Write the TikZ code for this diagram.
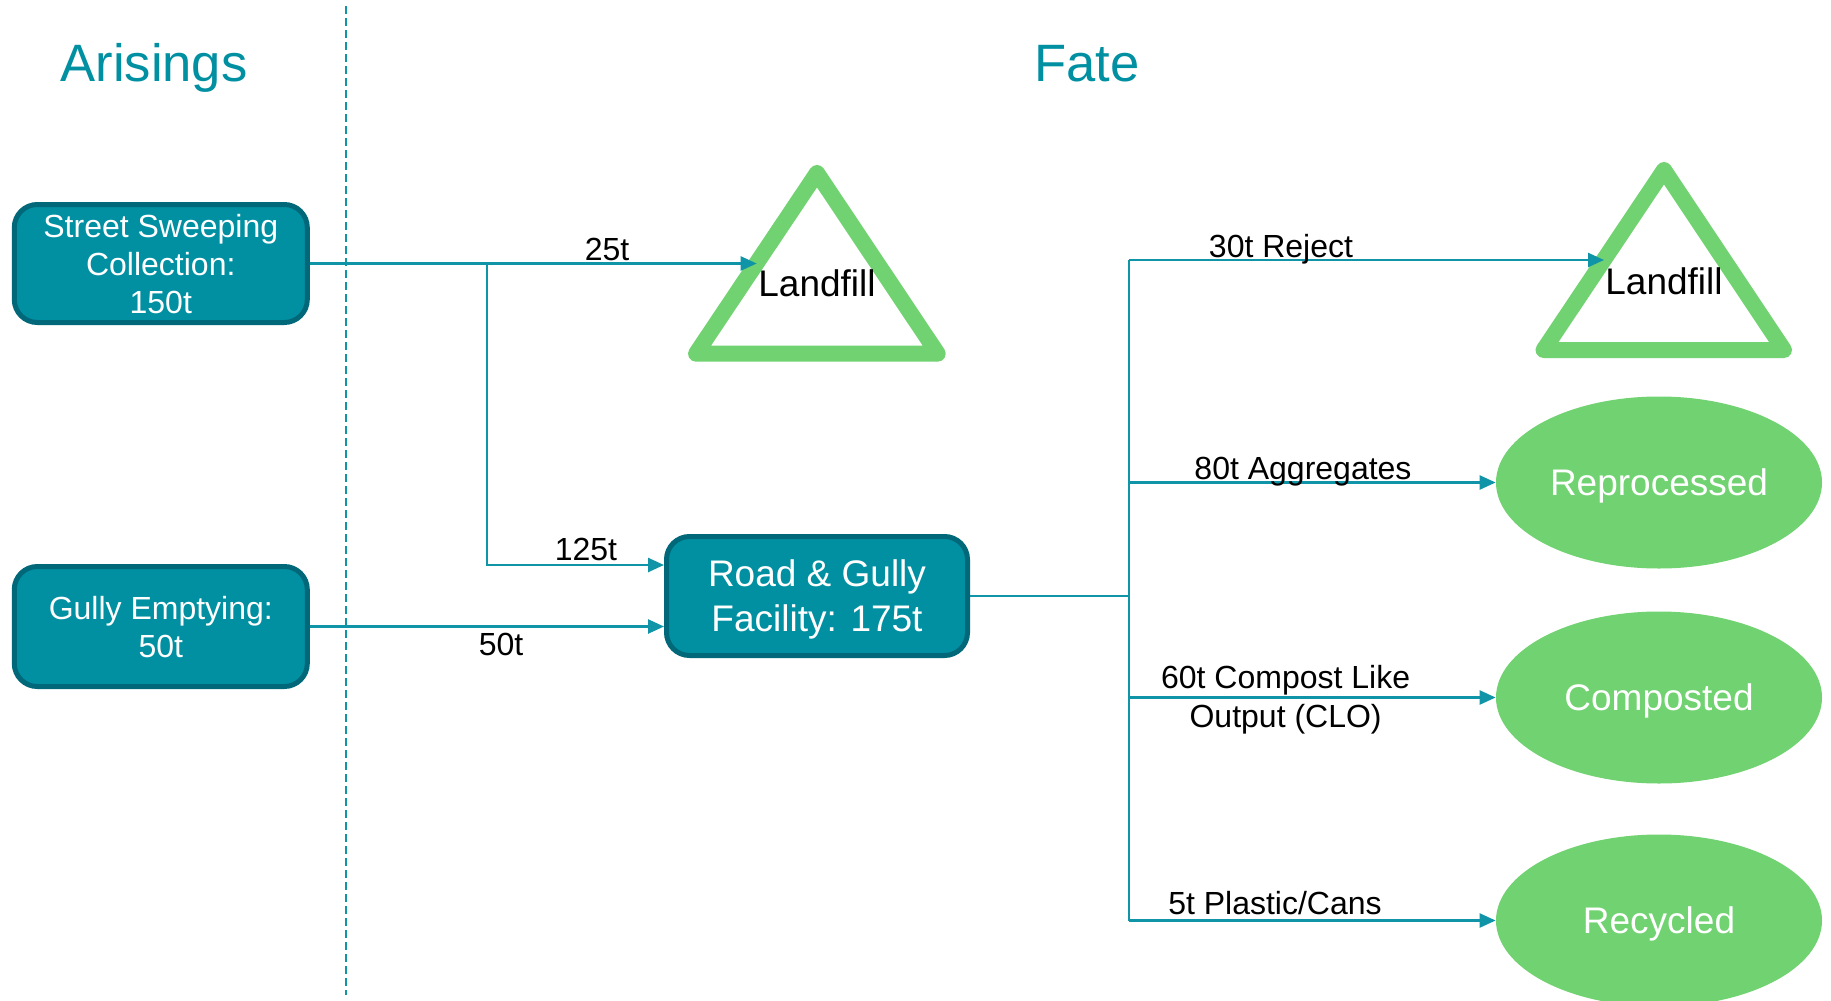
\documentclass[tikz,border=0pt]{standalone}
\usepackage{fontspec}
\setmainfont{Liberation Sans}
\usetikzlibrary{shapes.geometric,arrows.meta,calc}
\definecolor{tealfill}{RGB}{0,144,162}
\definecolor{tealdark}{RGB}{0,104,120}
\definecolor{tealline}{RGB}{16,148,168}
\definecolor{lgreen}{RGB}{112,210,112}
\tikzset{
  srcbox/.style={draw=tealdark, fill=tealfill, line width=2.5pt, rounded corners=11.5pt,
    text=white, align=center, inner sep=0pt, text depth=0pt, font=\fontsize{16}{19}\selectfont},
  fate/.style={ellipse, fill=lgreen, text=white, inner sep=0pt, text depth=0pt,
    minimum width=163pt, minimum height=86pt, font=\fontsize{18.5}{22}\selectfont},
  conn/.style={draw=tealline, line width=1.25pt},
  arr/.style={conn, -{Triangle[length=8pt,width=7pt]}},
  lbl/.style={text=black, inner sep=0pt, text depth=0pt, font=\fontsize{16}{18}\selectfont, align=center},
  ttl/.style={text=tealfill, inner sep=0pt, anchor=base, font=\fontsize{26.3}{30}\selectfont},
  tri/.style={draw=lgreen, line width=8pt, line join=round},
}
\begin{document}
\begin{tikzpicture}[x=0.5pt,y=-0.5pt]
\clip (0,0) rectangle (1831,1001);
\fill[white] (0,0) rectangle (1831,1001);

% titles and divider
\node[ttl] (tarise) at (154,81.5) {Arisings};
\node[ttl] (tfate) at (1087,81.5) {Fate};
\coordinate (dtop) at (345.6,6);
\coordinate (dbot) at (345.6,995);
\draw[tealline, line width=1pt, dash pattern=on 4pt off 2pt] (dtop) -- (dbot);

% source boxes
\node[srcbox, minimum width=146.5pt, minimum height=59pt] (ss) at (160.8,263.5)
  {Street Sweeping\\Collection:\\150t};
\node[srcbox, minimum width=146.5pt, minimum height=60pt] (ge) at (160.8,626.5)
  {Gully Emptying:\\50t};
\node[srcbox, minimum width=150.5pt, minimum height=59.5pt,
  font=\fontsize{18.5}{22.5}\selectfont] (rg) at (817,596)
  {Road \& Gully\\Facility: 175t};

% landfill triangles
\coordinate (l1t) at (817,173);
\coordinate (l1l) at (696,353.7);
\coordinate (l1r) at (937.7,353.7);
\draw[tri] (l1t) -- (l1l) -- (l1r) -- cycle;
\node[lbl, font=\fontsize{18.5}{22}\selectfont] (lf1) at (817,283) {Landfill};

\coordinate (l2t) at (1664,170);
\coordinate (l2l) at (1543.5,350);
\coordinate (l2r) at (1784,350);
\draw[tri] (l2t) -- (l2l) -- (l2r) -- cycle;
\node[lbl, font=\fontsize{18.5}{22}\selectfont] (lf2) at (1664,281) {Landfill};

% fate ellipses
\node[fate] (rep) at (1659,482.5) {Reprocessed};
\node[fate] (com) at (1659,697.5) {Composted};
\node[fate] (rec) at (1659,920.5) {Recycled};

% connectors: arisings
\coordinate (b1) at (487,263.5);
\coordinate (l1in) at (756.7,263.5);
\coordinate (rgin1) at ($(rg.north west)!0.25!(rg.south west)$);
\draw[arr] (ss.east) -- (l1in);
\draw[arr] (b1) |- (rgin1);
\draw[arr] (ge.east) -- (ge.east -| rg.west);

% connectors: fate
\coordinate (hub) at (1129,596);
\coordinate (jt) at (1129,260);
\coordinate (jb) at (1129,920.5);
\coordinate (l2in) at (1604,260);
\draw[conn] (rg.east) -- (hub);
\draw[conn] (jt) -- (jb);
\draw[arr] (jt) -- (l2in);
\draw[arr] (jt |- rep.west) -- (rep.west);
\draw[arr] (jt |- com.west) -- (com.west);
\draw[arr] (jb) -- (rec.west);

% flow labels
\node[lbl] (t25) at (607,249) {25t};
\node[lbl] (t125) at (586,549) {125t};
\node[lbl] (t50) at (501,644.5) {50t};
\node[lbl] (t30) at (1281,246) {30t Reject};
\node[lbl] (t80) at (1303,468) {80t Aggregates};
\node[lbl, text depth=, font=\fontsize{16}{19.5}\selectfont] (t60) at (1285.6,700) {60t Compost Like\\Output (CLO)};
\node[lbl] (t5) at (1275,902.6) {5t Plastic/Cans};
\end{tikzpicture}
\end{document}
